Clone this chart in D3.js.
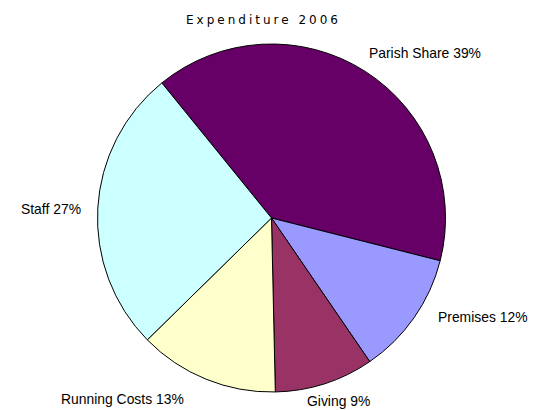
<!DOCTYPE html>
<html>
<head>
<meta charset="utf-8">
<script src="https://cdn.jsdelivr.net/npm/d3@7"></script>
<style>
  html, body { margin: 0; padding: 0; background: #fff; }
  svg { display: block; }
</style>
</head>
<body>
<svg id="chart" width="534" height="410"></svg>
<script>
const categories = ["Parish Share", "Premises", "Giving", "Running Costs", "Staff"];
const values = [39.8, 11.5, 9.2, 13.0, 26.5];
const labels = ["Parish Share 39%", "Premises 12%", "Giving 9%", "Running Costs 13%", "Staff 27%"];
const colors = ["#660066", "#9999FF", "#993366", "#FFFFCC", "#CCFFFF"];
const title = "Expenditure 2006";

const svg = d3.select("#chart");
const cx = 271.5, cy = 218, r = 174;
const startAngle = -39.06 * Math.PI / 180;

const pie = d3.pie().sort(null).value(d => d)
  .startAngle(startAngle).endAngle(startAngle + 2 * Math.PI);
const arcs = pie(values);
const arc = d3.arc().innerRadius(0).outerRadius(r);

const g = svg.append("g").attr("transform", `translate(${cx},${cy})`);
g.selectAll("path").data(arcs).join("path")
  .attr("d", arc)
  .attr("fill", (d, i) => colors[i])
  .attr("stroke", "#000")
  .attr("stroke-width", 1)
  .attr("stroke-linejoin", "round");

svg.append("text")
  .attr("x", 186).attr("y", 24)
  .attr("font-family", "'DejaVu Sans', sans-serif")
  .attr("font-size", 12)
  .attr("letter-spacing", "3px")
  .attr("fill", "#000")
  .text(title);

// label positions (text start x, baseline y)
const labelPos = [[369, 58], [438, 322], [307, 406], [61, 404], [21, 214]];
svg.selectAll("text.lbl").data(labels).join("text")
  .attr("class", "lbl")
  .attr("x", (d, i) => labelPos[i][0])
  .attr("y", (d, i) => labelPos[i][1])
  .attr("font-family", "'Liberation Sans', Arial, sans-serif")
  .attr("font-size", 13.9)
  .attr("fill", "#000")
  .text(d => d);
</script>
</body>
</html>
